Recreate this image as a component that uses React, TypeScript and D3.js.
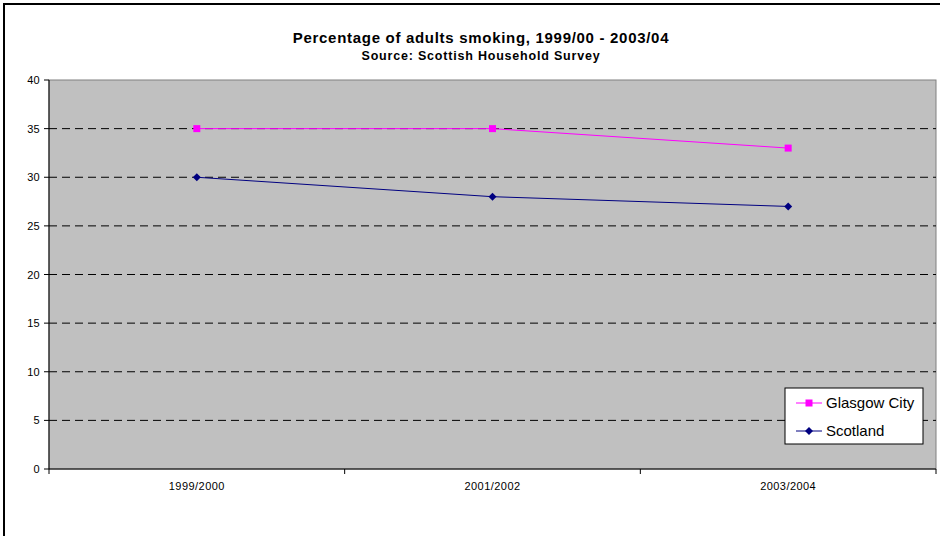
import React from "react";
import * as d3 from "d3";

const categories = ["1999/2000", "2001/2002", "2003/2004"];
const glasgow = [35, 35, 33];
const scotland = [30, 28, 27];
const yTicks = [0, 5, 10, 15, 20, 25, 30, 35, 40];
const seriesNames = ["Glasgow City", "Scotland"];

export default function App() {
  const W = 940, H = 536;
  const left = 49, right = 936, top = 80, bottom = 469;
  const x = d3.scaleBand<string>().domain(categories).range([left, right]);
  const y = d3.scaleLinear().domain([0, 40]).range([bottom, top]);
  const cx = (c: string) => (x(c) as number) + x.bandwidth() / 2;
  const line = d3.line<number>().x((_, i) => cx(categories[i])).y((v) => y(v));
  const font = "Arial, 'Liberation Sans', sans-serif";
  const boundaries = [...categories.map((c) => x(c) as number), right];

  return (
    <svg width={W} height={H} style={{ position: "absolute", left: 0, top: 0, background: "#fff" }} fontFamily={font}>
      <rect x={4} y={4} width={W + 10} height={H + 10} fill="#fff" stroke="#000" strokeWidth={2} />
      <text x={481} y={43} textAnchor="middle" fontSize={15} fontWeight="bold" letterSpacing={0.7}>
        Percentage of adults smoking, 1999/00 - 2003/04
      </text>
      <text x={481} y={60} textAnchor="middle" fontSize={12.5} fontWeight="bold" letterSpacing={0.8}>
        Source: Scottish Household Survey
      </text>
      <rect x={left} y={top} width={right - left} height={bottom - top} fill="#C0C0C0" stroke="#808080" strokeWidth={1} />
      {yTicks.filter((t) => t > 0 && t < 40).map((t) => (
        <line key={t} x1={left} x2={right} y1={y(t)} y2={y(t)} stroke="#000" strokeWidth={1} strokeDasharray="8,5" />
      ))}
      <line x1={left} x2={left} y1={top} y2={bottom} stroke="#000" />
      <line x1={left} x2={right} y1={bottom} y2={bottom} stroke="#000" />
      {yTicks.map((t) => (
        <g key={t}>
          <line x1={left - 5} x2={left} y1={y(t)} y2={y(t)} stroke="#000" />
          <text x={left - 9} y={y(t) + 4} textAnchor="end" fontSize={11} letterSpacing={0.3}>{t}</text>
        </g>
      ))}
      {boundaries.map((b, i) => (
        <line key={i} x1={b} x2={b} y1={bottom} y2={bottom + 5} stroke="#000" />
      ))}
      {categories.map((c) => (
        <text key={c} x={cx(c)} y={bottom + 21} textAnchor="middle" fontSize={11} letterSpacing={0.45}>{c}</text>
      ))}
      <path d={line(glasgow) as string} fill="none" stroke="#FF00FF" strokeWidth={1} />
      <path d={line(scotland) as string} fill="none" stroke="#000080" strokeWidth={1} />
      {glasgow.map((v, i) => (
        <rect key={i} x={cx(categories[i]) - 3.5} y={y(v) - 3.5} width={7} height={7} fill="#FF00FF" />
      ))}
      {scotland.map((v, i) => {
        const px = cx(categories[i]), py = y(v);
        return <path key={i} d={`M${px},${py - 4}L${px + 4},${py}L${px},${py + 4}L${px - 4},${py}Z`} fill="#000080" />;
      })}
      <g>
        <rect x={785} y={388} width={138} height={56} fill="#fff" stroke="#000" strokeWidth={1} />
        <line x1={796} x2={822} y1={403} y2={403} stroke="#FF00FF" />
        <rect x={805.5} y={399.5} width={7} height={7} fill="#FF00FF" />
        <text x={826} y={408} fontSize={15}>{seriesNames[0]}</text>
        <line x1={796} x2={822} y1={431} y2={431} stroke="#000080" />
        <path d="M809,427L813,431L809,435L805,431Z" fill="#000080" />
        <text x={826} y={436} fontSize={15}>{seriesNames[1]}</text>
      </g>
    </svg>
  );
}
